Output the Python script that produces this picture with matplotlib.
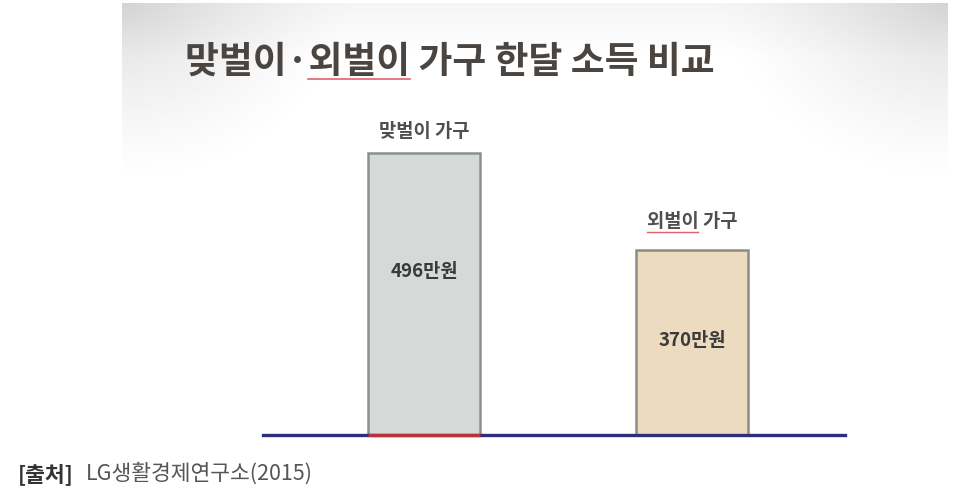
import numpy as np
import matplotlib
matplotlib.use("Agg")
import matplotlib.pyplot as plt

plt.rcParams['font.family'] = ['Noto Sans CJK KR', 'DejaVu Sans']

# data
categories = ['맞벌이 가구', '외벌이 가구']
values = [496, 370]
value_labels = ['496만원', '370만원']
title = '맞벌이·외벌이 가구 한달 소득 비교'
source_bold = '[출처]'
source_text = 'LG생활경제연구소(2015)'

W, H = 954, 501
fig = plt.figure(figsize=(W / 100, H / 100), dpi=100)
fig.patch.set_facecolor('white')

# slide background, faint grey in the upper corners only
bg = fig.add_axes([122 / W, (H - 438) / H, 826 / W, 435 / H])
yy, xx = np.mgrid[0:1:218j, 0:1:413j]
shade = np.ones_like(xx)
for cx in (0.0, 1.0):
    d = np.sqrt(((xx - cx) / 0.28) ** 2 + (yy / 0.42) ** 2)
    shade -= 0.13 * np.clip(1 - d, 0, 1) ** 1.3
shade -= 0.04 * np.clip(1 - yy / 0.12, 0, 1)
bg.imshow(shade, cmap='gray', vmin=0, vmax=1, aspect='auto', interpolation='bilinear')
bg.axis('off')

# main axes
ax = fig.add_axes([263 / W, (H - 435) / H, 582 / W, 335 / H])
ax.patch.set_alpha(0)
x = np.arange(len(values))
width = 0.418
colors = ['#d5d9d7', '#ecdbbe']
edges = ['#8b908d', '#8e8c84']
bars = ax.bar(x, values, width=width, color=colors, edgecolor=edges, linewidth=1.8, zorder=2)
ax.set_xlim(-0.601, 1.571)
ax.set_ylim(129.7, 564.8)

for s in ['top', 'right', 'left']:
    ax.spines[s].set_visible(False)
ax.spines['bottom'].set_color('#2d2f78')
ax.spines['bottom'].set_linewidth(2.4)
ax.spines['bottom'].set_zorder(3)
ax.set_xticks([])
ax.set_yticks([])

# red segment under the first bar
y0 = ax.get_ylim()[0]
ax.plot([x[0] - width / 2, x[0] + width / 2], [y0, y0], color='#b8323c', lw=2.4,
        solid_capstyle='butt', zorder=4, clip_on=False)

renderer = fig.canvas.get_renderer()


def text_width(s, **kw):
    t = fig.text(0, 0, s, **kw)
    w = t.get_window_extent(renderer).width
    t.remove()
    return w


label_kw = dict(fontsize=13.5, fontweight='bold', color='#4f4f4f')
offsets = [21, 28]
for i, b in enumerate(bars):
    lab = ax.annotate(categories[i], (b.get_x() + b.get_width() / 2, b.get_height()),
                      xytext=(0, offsets[i]), textcoords='offset pixels', ha='center', va='center',
                      **label_kw)
    mid = (b.get_height() + y0) / 2
    ax.annotate(value_labels[i], (b.get_x() + b.get_width() / 2, mid),
                xytext=(0, [22, 2][i]), textcoords='offset pixels', ha='center', va='center',
                fontsize=13.5, fontweight='bold', color='#3a3a3a')
    if i == 1:
        ext = lab.get_window_extent(renderer)
        w_word = text_width('외벌이', **label_kw)
        yl = ext.y0 - 1
        fig.add_artist(plt.Line2D([ext.x0 / W, (ext.x0 + w_word) / W], [yl / H, yl / H],
                                  color='#e0606a', lw=1.0))

# title
title_kw = dict(fontsize=26.5, fontweight='bold', color='#4a4540')
tx = 185
t = fig.text(tx / W, 1 - 62 / H, title, ha='left', va='center', **title_kw)
ext = t.get_window_extent(renderer)
x1 = tx + text_width('맞벌이·', **title_kw)
x2 = tx + text_width('맞벌이·외벌이', **title_kw)
fig.add_artist(plt.Line2D([x1 / W, x2 / W], [(ext.y0 + 1) / H, (ext.y0 + 1) / H],
                          color='#e0606a', lw=1.2))

# source
src_kw = dict(fontsize=15.5, va='center')
fig.text(18 / W, 1 - 474 / H, source_bold, ha='left', fontweight='bold', color='#333333', **src_kw)
fig.text(86 / W, 1 - 474 / H, source_text, ha='left', color='#555555', **src_kw)

fig.savefig('out.png', dpi=100)
